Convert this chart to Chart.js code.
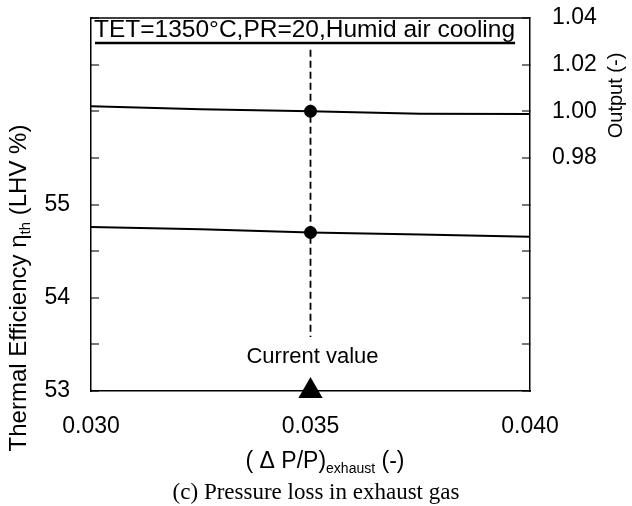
<!DOCTYPE html>
<html>
<head>
<meta charset="utf-8">
<script src="https://cdn.jsdelivr.net/npm/chart.js@4/dist/chart.umd.min.js"></script>
<style>
  html, body { margin: 0; padding: 0; background: #fff; }
  #wrap { width: 632px; height: 506px; }
</style>
</head>
<body>
<div id="wrap"><canvas id="chart1" width="632" height="506"></canvas></div>
<script>
// data
const pressureLoss = [0.030, 0.0325, 0.035, 0.0375, 0.040];
const efficiency = [54.76, 54.735, 54.70, 54.678, 54.655];
const output = [1.0021, 1.0009, 1.0000, 0.9989, 0.9988];

const currentX = 0.035;
const currentLineY = [56.66, 53.58];   // dashed marker line, efficiency axis
const currentTriangleY = 53;

const xTicks = [0.030, 0.035, 0.040];
const effLabels = [53, 54, 55];
const outLabels = [0.98, 1.00, 1.02, 1.04];

const titleText = 'TET=1350°C,PR=20,Humid air cooling';
const captionText = '(c) Pressure loss in exhaust gas';

const toPoints = (xs, ys) => xs.map((x, i) => ({ x: x, y: ys[i] }));
const isCurrent = ctx => ctx.raw && Math.abs(ctx.raw.x - currentX) < 1e-9 ? 5.5 : 0;

const SANS = '"Liberation Sans", Arial, sans-serif';

// no automatic padding from the tick labels, the frame is fixed
const noPad = s => { s.paddingTop = 0; s.paddingBottom = 0; s.paddingLeft = 0; s.paddingRight = 0; };

// draws frame, title, notes and axis titles (with subscripts)
const extras = {
  id: 'extras',
  afterDraw(chart) {
    const { ctx, chartArea: a, scales } = chart;
    ctx.save();
    // top border
    ctx.strokeStyle = '#000';
    ctx.lineWidth = 1.5;
    ctx.beginPath();
    ctx.moveTo(a.left, a.top);
    ctx.lineTo(a.right, a.top);
    ctx.stroke();

    // title inside the box, underlined
    ctx.fillStyle = '#000';
    ctx.font = '24.5px ' + SANS;
    ctx.textAlign = 'left';
    ctx.textBaseline = 'alphabetic';
    ctx.fillText(titleText, a.left + 3, a.top + 18.5);
    const tw = ctx.measureText(titleText).width;
    ctx.lineWidth = 2.5;
    ctx.beginPath();
    ctx.moveTo(a.left + 4, a.top + 25);
    ctx.lineTo(a.left + 3 + tw, a.top + 25);
    ctx.stroke();

    // "Current value"
    const cx = scales.x.getPixelForValue(currentX);
    ctx.font = '22px ' + SANS;
    ctx.textAlign = 'center';
    ctx.fillText('Current value', cx + 2, scales.y.getPixelForValue(53.3));

    // text with subscript helper
    const drawSub = (parts, x, y) => {
      let w = 0;
      parts.forEach(p => { ctx.font = p.font; w += ctx.measureText(p.t).width; });
      let px = x - w / 2;
      ctx.textAlign = 'left';
      parts.forEach(p => {
        ctx.font = p.font;
        ctx.fillText(p.t, px, y + (p.dy || 0));
        px += ctx.measureText(p.t).width;
      });
    };

    // left axis title
    ctx.save();
    ctx.translate(26, 288);
    ctx.rotate(-Math.PI / 2);
    drawSub([
      { t: 'Thermal Efficiency η', font: '24px ' + SANS },
      { t: 'th', font: '15px ' + SANS, dy: 4 },
      { t: ' (LHV %)', font: '24px ' + SANS }
    ], 0, 0);
    ctx.restore();

    // right axis title
    ctx.save();
    ctx.translate(622, 95.5);
    ctx.rotate(-Math.PI / 2);
    drawSub([{ t: 'Output (-)', font: '20px ' + SANS }], 0, 0);
    ctx.restore();

    // x axis title
    drawSub([
      { t: '( Δ P/P)', font: '23px ' + SANS },
      { t: 'exhaust', font: '14px ' + SANS, dy: 5 },
      { t: ' (-)', font: '23px ' + SANS }
    ], 325, 468);

    // caption
    drawSub([{ t: captionText, font: '23px "Liberation Serif", "Times New Roman", serif' }], 316, 499);
    ctx.restore();
  }
};

new Chart('chart1', {
  type: 'line',
  data: {
    datasets: [
      {
        label: 'Efficiency',
        data: toPoints(pressureLoss, efficiency),
        yAxisID: 'y',
        borderColor: '#000',
        backgroundColor: '#000',
        borderWidth: 2,
        pointRadius: isCurrent,
        pointHoverRadius: isCurrent,
        tension: 0
      },
      {
        label: 'Output',
        data: toPoints(pressureLoss, output),
        yAxisID: 'y2',
        borderColor: '#000',
        backgroundColor: '#000',
        borderWidth: 2,
        pointRadius: isCurrent,
        pointHoverRadius: isCurrent,
        tension: 0
      },
      {
        label: 'Current line',
        data: currentLineY.map(y => ({ x: currentX, y: y })),
        yAxisID: 'y',
        borderColor: '#000',
        borderWidth: 1.8,
        borderDash: [7, 4],
        pointRadius: 0
      },
      {
        label: 'Current marker',
        data: [{ x: currentX, y: currentTriangleY }],
        yAxisID: 'y',
        showLine: false,
        pointStyle: 'triangle',
        pointRadius: 14,
        pointHoverRadius: 14,
        backgroundColor: '#000',
        borderColor: '#000',
        borderWidth: 0,
        clip: false
      }
    ]
  },
  options: {
    responsive: false,
    animation: false,
    events: [],
    layout: { padding: { top: 18, left: 0, right: 0, bottom: 0 } },
    plugins: { legend: { display: false }, tooltip: { enabled: false } },
    scales: {
      x: {
        type: 'linear',
        min: 0.030,
        max: 0.040,
        afterBuildTicks: s => { s.ticks = xTicks.map(v => ({ value: v })); },
        afterFit: s => { s.height = 115; noPad(s); },
        grid: { display: false, drawTicks: false },
        border: { display: true, color: '#000', width: 1.5 },
        ticks: {
          padding: 22,
          color: '#000',
          font: { family: SANS, size: 23 },
          callback: v => v.toFixed(3)
        }
      },
      y: {
        position: 'left',
        min: 53,
        max: 57,
        afterFit: s => { s.width = 91; noPad(s); },
        grid: { drawOnChartArea: false, tickLength: -8, color: '#777', lineWidth: 2 },
        border: { display: true, color: '#000', width: 1.5 },
        ticks: {
          stepSize: 0.5,
          padding: 29,
          color: '#000',
          font: { family: SANS, size: 23 },
          callback: v => effLabels.some(l => Math.abs(l - v) < 1e-6) ? String(Math.round(v)) : ''
        }
      },
      y2: {
        position: 'right',
        min: 0.88,
        max: 1.04,
        afterFit: s => { s.width = 102; noPad(s); },
        grid: { drawOnChartArea: false, tickLength: -8, color: '#777', lineWidth: 2 },
        border: { display: true, color: '#000', width: 1.5 },
        ticks: {
          stepSize: 0.02,
          padding: 30,
          color: '#000',
          font: { family: SANS, size: 23 },
          callback: v => outLabels.some(l => Math.abs(l - v) < 1e-6) ? v.toFixed(2) : ''
        }
      }
    }
  },
  plugins: [extras]
});
</script>
</body>
</html>
